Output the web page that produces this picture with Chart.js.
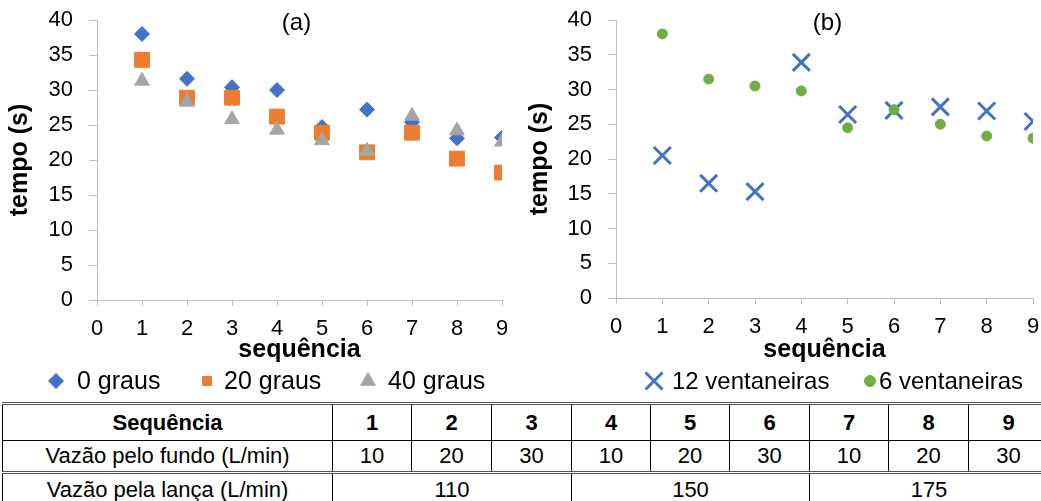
<!DOCTYPE html>
<html>
<head>
<meta charset="utf-8">
<script src="https://cdn.jsdelivr.net/npm/chart.js@4"></script>
<style>
  body { margin: 0; width: 1041px; height: 501px; overflow: hidden; background: #fff; position: relative; font-family: "Liberation Sans", Arial, sans-serif; }
  #chartA { position: absolute; left: 0; top: 0; }
  #chartB { position: absolute; left: 520px; top: 0; }
  table { position: absolute; left: 2px; top: 402px; border-collapse: collapse; table-layout: fixed; width: 1046px; font-size: 22px; color: #000; }
  td { border-left: 1px solid #000; border-right: 1px solid #000; text-align: center; padding: 0; white-space: nowrap; }
  tr.r1 td { height: 35px; font-weight: bold; border-top: 3px double #555; border-bottom: 1px solid #000; }
  tr.r2 td { height: 30px; border-bottom: 3px double #555; }
  tr.r3 td { height: 32px; }
</style>
</head>
<body>
<canvas id="chartA" width="520" height="400"></canvas>
<canvas id="chartB" width="521" height="400"></canvas>
<table id="tab"></table>
<script>
// dados
const sequencia = [1, 2, 3, 4, 5, 6, 7, 8, 9];
const graus0  = [38.0, 31.6, 30.4, 30.0, 24.7, 27.2, 25.4, 23.1, 23.2];
const graus20 = [34.3, 28.9, 28.9, 26.2, 23.9, 21.1, 23.9, 20.2, 18.2];
const graus40 = [31.3, 28.3, 25.8, 24.3, 22.8, 21.3, 26.3, 24.2, 22.6];
const vent12  = [20.5, 16.5, 15.3, 33.9, 26.4, 27.0, 27.5, 26.9, 25.4];
const vent6   = [38.0, 31.5, 30.5, 29.8, 24.5, 27.1, 25.0, 23.3, 23.0];
const vazaoFundo = [10, 20, 30, 10, 20, 30, 10, 20, 30];
const vazaoLanca = [110, 150, 175];

const FONT = '"Liberation Sans", Arial, sans-serif';
const axisGray = '#bfbfbf';

const pts = arr => arr.map((v, i) => ({ x: sequencia[i], y: v }));

// escreve (a) / (b) no topo da área do gráfico
const panelLabel = {
    id: 'panelLabel',
    afterDraw(chart, args, opts) {
        const { ctx, chartArea } = chart;
        ctx.save();
        ctx.font = '24px ' + FONT;
        ctx.fillStyle = '#000';
        ctx.textAlign = 'center';
        ctx.textBaseline = 'middle';
        ctx.fillText(opts.text, (chartArea.left + chartArea.right) / 2 + opts.dx, chartArea.top + 3);
        ctx.restore();
    }
};

// legenda numa linha, com marcadores iguais aos dos pontos
const legendRow = {
    id: 'legendRow',
    afterDraw(chart, args, opts) {
        const ctx = chart.ctx;
        chart.data.datasets.forEach((ds, i) => {
            const it = opts.items[i];
            ctx.save();
            ctx.fillStyle = ds.backgroundColor;
            ctx.strokeStyle = ds.borderColor;
            ctx.lineWidth = it.lw || 1;
            Chart.helpers.drawPoint(ctx, { pointStyle: ds.pointStyle, radius: it.r, rotation: 0, borderWidth: it.lw || 1 }, it.mx, opts.y);
            ctx.fillStyle = '#000';
            ctx.font = opts.size + 'px ' + FONT;
            ctx.textAlign = 'left';
            ctx.textBaseline = 'middle';
            ctx.fillText(ds.label, it.tx, opts.y + 1);
            ctx.restore();
        });
    }
};

function makeScales(yWidth, xHeight) {
    return {
        x: {
            type: 'linear', min: 0, max: 9,
            afterFit: s => { s.height = xHeight; s.paddingLeft = 0; s.paddingRight = 0; },
            ticks: { stepSize: 1, color: '#000', font: { size: 22, family: FONT }, padding: 10 },
            grid: { drawOnChartArea: false, color: axisGray, tickLength: 6 },
            border: { color: axisGray },
            title: { display: true, text: 'sequência', color: '#000', font: { size: 25, weight: 'bold', family: FONT }, padding: { top: 0, bottom: 0 } }
        },
        y: {
            min: 0, max: 40,
            afterFit: s => { s.width = yWidth; s.paddingTop = 0; s.paddingBottom = 0; },
            ticks: { stepSize: 5, color: '#000', font: { size: 22, family: FONT }, padding: 16 },
            grid: { drawOnChartArea: false, color: axisGray, tickLength: 8 },
            border: { color: axisGray },
            title: { display: true, text: 'tempo (s)', color: '#000', font: { size: 25, weight: 'bold', family: FONT }, padding: { top: 5, bottom: 0 } }
        }
    };
}

new Chart(document.getElementById('chartA'), {
    type: 'scatter',
    data: {
        datasets: [
            { label: '0 graus', data: pts(graus0), pointStyle: 'rectRot', pointRadius: 7.5, backgroundColor: '#4472C4', borderColor: '#4472C4', order: 2 },
            { label: '20 graus', data: pts(graus20), pointStyle: 'rect', pointRadius: 10.5, backgroundColor: '#ED7D31', borderColor: '#ED7D31', order: 1 },
            { label: '40 graus', data: pts(graus40), pointStyle: 'triangle', pointRadius: 8.5, backgroundColor: '#A5A5A5', borderColor: '#A5A5A5', order: 0 }
        ]
    },
    options: {
        responsive: false, animation: false,
        layout: { autoPadding: false, padding: { top: 20, right: 18, left: 0, bottom: 35 } },
        scales: makeScales(97, 65),
        plugins: {
            legend: { display: false }, tooltip: { enabled: false },
            panelLabel: { text: '(a)', dx: -3 },
            legendRow: { y: 381, size: 25, items: [
                { mx: 56, tx: 77, r: 7.5 },
                { mx: 207, tx: 224, r: 6.4 },
                { mx: 368, tx: 388, r: 8.5 }
            ] }
        }
    },
    plugins: [panelLabel, legendRow]
});

new Chart(document.getElementById('chartB'), {
    type: 'scatter',
    data: {
        datasets: [
            { label: '12 ventaneiras', data: pts(vent12), pointStyle: 'crossRot', pointRadius: 12, borderWidth: 3, backgroundColor: '#4472C4', borderColor: '#4472C4', order: 1 },
            { label: '6 ventaneiras', data: pts(vent6), pointStyle: 'circle', pointRadius: 5, backgroundColor: '#70AD47', borderColor: '#70AD47', order: 0 }
        ]
    },
    options: {
        responsive: false, animation: false,
        layout: { autoPadding: false, padding: { top: 20, right: 8, left: 0, bottom: 35 } },
        scales: makeScales(96, 67),
        plugins: {
            legend: { display: false }, tooltip: { enabled: false },
            panelLabel: { text: '(b)', dx: 3 },
            legendRow: { y: 381, size: 24, items: [
                { mx: 134, tx: 152, r: 12, lw: 3 },
                { mx: 350, tx: 359, r: 5.5 }
            ] }
        }
    },
    plugins: [panelLabel, legendRow]
});

// tabela abaixo dos gráficos
const tab = document.getElementById('tab');
const colW = [330, 79, 80, 80, 79, 79, 80, 79, 80, 80];
tab.innerHTML =
    '<colgroup>' + colW.map(w => `<col style="width:${w}px">`).join('') + '</colgroup>' +
    `<tr class="r1"><td>Sequência</td>${sequencia.map(s => `<td>${s}</td>`).join('')}</tr>` +
    `<tr class="r2"><td>Vazão pelo fundo (L/min)</td>${vazaoFundo.map(v => `<td>${v}</td>`).join('')}</tr>` +
    `<tr class="r3"><td>Vazão pela lança (L/min)</td>${vazaoLanca.map(v => `<td colspan="3">${v}</td>`).join('')}</tr>`;
</script>
</body>
</html>
